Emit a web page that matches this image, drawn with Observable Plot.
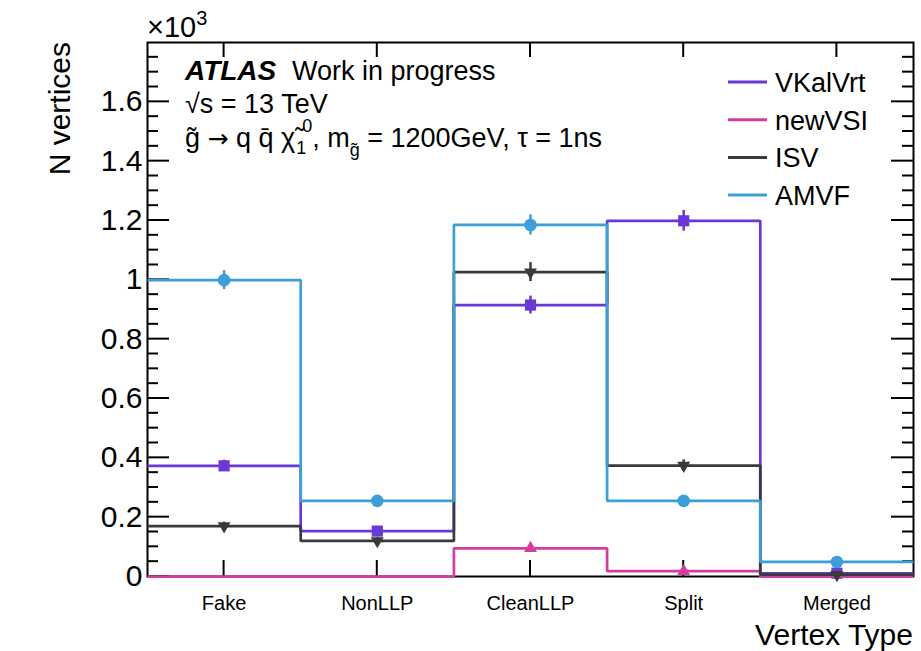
<!DOCTYPE html>
<html><head><meta charset="utf-8">
<script src="https://cdn.jsdelivr.net/npm/d3@7"></script>
<script src="https://cdn.jsdelivr.net/npm/@observablehq/plot@0.6"></script>
<style>body{margin:0;background:#fff;overflow:hidden} svg{display:block}</style>
</head><body><div id="chart"></div>
<script>
// ---- data (values in units of 10^3 vertices) ----
const categories = ["Fake", "NonLLP", "CleanLLP", "Split", "Merged"];
const seriesNames = ["VKalVrt", "newVSI", "ISV", "AMVF"];
const seriesColors = ["#6a38d6", "#d43c9e", "#3a3a3a", "#3c9fd7"];
const seriesSymbols = ["square", "triangle", "triangle", "circle"];
const seriesRotate = [0, 0, 180, 0];
const vkalvrtValues = [0.373, 0.153, 0.915, 1.199, 0.011];
const newvsiValues  = [0.000, 0.000, 0.095, 0.018, 0.000];
const isvValues     = [0.170, 0.120, 1.026, 0.374, 0.006];
const amvfValues    = [0.999, 0.255, 1.185, 0.255, 0.049];
const vkalvrtErrors = [0.019, 0.012, 0.030, 0.035, 0.010];
const newvsiErrors  = [0.000, 0.000, 0.010, 0.004, 0.000];
const isvErrors     = [0.013, 0.011, 0.032, 0.019, 0.008];
const amvfErrors    = [0.032, 0.016, 0.034, 0.016, 0.007];
const yTicks = [0, 0.2, 0.4, 0.6, 0.8, 1.0, 1.2, 1.4, 1.6];
const yTickLabels = ["0", "0.2", "0.4", "0.6", "0.8", "1", "1.2", "1.4", "1.6"];
const yMinorStep = 0.05;
const yMax = 1.8;

const allValues = [vkalvrtValues, newvsiValues, isvValues, amvfValues];
const allErrors = [vkalvrtErrors, newvsiErrors, isvErrors, amvfErrors];

// ---- build tables ----
const W = 921, H = 651;
const mL = 147, mR = 8, mT = 42, mB = 75;
const font = "Liberation Sans, Arial, Helvetica, sans-serif";

const steps = [], points = [];
seriesNames.forEach((s, k) => {
  allValues[k].forEach((v, i) => {
    steps.push({series: s, x: i, y: v});
    steps.push({series: s, x: i + 1, y: v});
    if (v > 0) points.push({series: s, k, x: i + 0.5, y: v, e: allErrors[k][i]});
  });
});
const xCenters = categories.map((c, i) => i + 0.5);
const yMinor = d3.range(0, yMax + 1e-9, yMinorStep).filter(v => v > 0 && v < yMax && !yTicks.some(t => Math.abs(t - v) < 1e-6));

const marks = [
  Plot.frame({stroke: "black", strokeWidth: 2}),
  Plot.axisY(yTicks, {tickSize: 0, tickPadding: 5, label: null, fontSize: 30,
    tickFormat: d => yTickLabels[yTicks.indexOf(d)]}),
  Plot.axisX(xCenters, {tickSize: 0, tickPadding: 19, label: null, fontSize: 20,
    tickFormat: d => categories[xCenters.indexOf(d)]})
];
seriesNames.forEach((s, k) => {
  const st = steps.filter(d => d.series === s);
  const pt = points.filter(d => d.series === s);
  marks.push(Plot.line(st, {x: "x", y: "y", stroke: seriesColors[k], strokeWidth: 2.7, strokeLinejoin: "miter", strokeLinecap: "butt"}));
  marks.push(Plot.ruleX(pt, {x: "x", y1: d => d.y - d.e, y2: d => d.y + d.e, stroke: seriesColors[k], strokeWidth: 2.5}));
  marks.push(Plot.dot(pt, {x: "x", y: "y", symbol: seriesSymbols[k], rotate: seriesRotate[k],
    r: seriesSymbols[k] === "triangle" ? 4.8 : 6.3, fill: seriesColors[k], stroke: "none"}));
});

const chart = Plot.plot({
  width: W, height: H,
  marginLeft: mL, marginRight: mR, marginTop: mT, marginBottom: mB,
  x: {domain: [0, categories.length], axis: null},
  y: {domain: [0, yMax], axis: null},
  style: {fontFamily: font, color: "black", background: "white"},
  marks
});
document.getElementById("chart").appendChild(chart);

// ---- inward ROOT-style ticks, placed with the plot's own scales ----
const sx = chart.scale("x"), sy = chart.scale("y");
const svg = d3.select(chart);
const tk = svg.append("g").attr("stroke", "black").attr("stroke-width", 2);
const xL = sx.apply(0), xR = sx.apply(categories.length);
const yB = sy.apply(0), yT = sy.apply(yMax);
const tickSet = yTicks.map(v => ({v, len: 22})).concat(yMinor.map(v => ({v, len: 11})));
tickSet.forEach(({v, len}) => {
  const yy = sy.apply(v);
  tk.append("line").attr("x1", xL).attr("x2", xL + len).attr("y1", yy).attr("y2", yy);
  tk.append("line").attr("x1", xR - len).attr("x2", xR).attr("y1", yy).attr("y2", yy);
});
xCenters.forEach(v => {
  const xx = sx.apply(v);
  tk.append("line").attr("x1", xx).attr("x2", xx).attr("y1", yB).attr("y2", yB - 16);
  tk.append("line").attr("x1", xx).attr("x2", xx).attr("y1", yT).attr("y2", yT + 15);
});
// keep data lines above the ticks
svg.node().insertBefore(tk.node(), svg.node().querySelector("g[aria-label='line']") || null);

// ---- annotations ----
const g = svg.append("g").attr("font-family", font).attr("fill", "black").attr("text-anchor", "start");

// axis titles
g.append("text").attr("transform", `translate(70,${mT}) rotate(-90)`)
  .attr("text-anchor", "end").attr("font-size", 30).text("N vertices");
g.append("text").attr("x", W - mR).attr("y", 645).attr("text-anchor", "end")
  .attr("font-size", 30).text("Vertex Type");
const ex = g.append("text").attr("x", 147).attr("y", 37).attr("font-size", 29);
ex.append("tspan").text("×10");
ex.append("tspan").attr("dy", -12).attr("font-size", 20).text("3");

// ATLAS label
g.append("text").attr("x", 185).attr("y", 80).attr("font-size", 28)
  .attr("font-weight", "bold").attr("font-style", "italic").text("ATLAS");
g.append("text").attr("x", 292).attr("y", 80).attr("font-size", 27).text("Work in progress");
g.append("text").attr("x", 185).attr("y", 113).attr("font-size", 27).text("√s = 13 TeV");
const l3 = g.append("text").attr("x", 185).attr("y", 147).attr("font-size", 27);
l3.append("tspan").text("g\u0303 ");
l3.append("tspan").attr("font-family", "DejaVu Sans").attr("font-size", 25).text("\u2192");
l3.append("tspan").text(" q q\u0304 \u03c7\u0303");
l3.append("tspan").attr("dx", 1).attr("dy", 7).attr("font-size", 18).text("1");
l3.append("tspan").attr("dx", -4).attr("dy", -22).attr("font-size", 18).text("0");
l3.append("tspan").attr("dy", 15).text(", m");
l3.append("tspan").attr("dy", 9).attr("font-size", 18).text("g\u0303");
l3.append("tspan").attr("dy", -9).text(" = 1200GeV, \u03c4 = 1ns");

// legend
seriesNames.forEach((s, k) => {
  const yy = 82 + k * 37.7;
  g.append("line").attr("x1", 728).attr("x2", 767).attr("y1", yy).attr("y2", yy)
    .attr("stroke", seriesColors[k]).attr("stroke-width", 3);
  g.append("text").attr("x", 775).attr("y", yy + 10).attr("font-size", 27).text(s);
});
</script>
</body></html>
